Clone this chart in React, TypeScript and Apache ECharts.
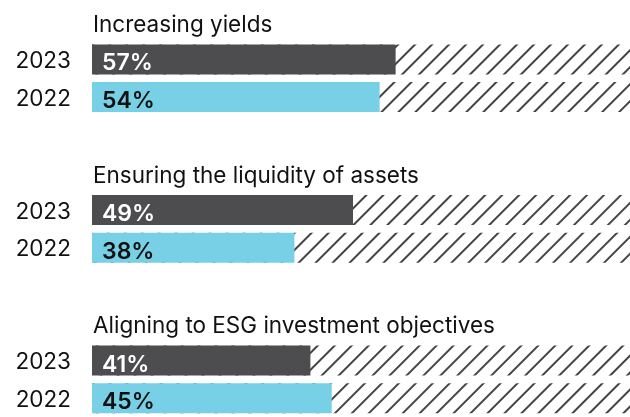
import React, { useEffect, useRef } from "react";
import * as echarts from "echarts";

const groups = [
  "Increasing yields",
  "Ensuring the liquidity of assets",
  "Aligning to ESG investment objectives",
];
const years = ["2023", "2022"];
const values2023 = [57, 49, 41];
const values2022 = [54, 38, 45];
const AXIS_MAX = 101;

const FONT = "Inter";

export default function App() {
  const ref = useRef<HTMLDivElement>(null);

  useEffect(() => {
    if (!ref.current) return;
    const chart = echarts.init(ref.current, null, { renderer: "svg" });

    // rows: title, 2023, 2022, spacer, ...
    const rowKeys: string[] = [];
    const rowLabels: string[] = [];
    const d2023: (number | string)[] = [];
    const d2022: (number | string)[] = [];
    const dHatch: (number | string)[] = [];
    const dTitle: (number | string)[] = [];
    const titleNames: string[] = [];
    groups.forEach((g, gi) => {
      if (gi > 0) {
        rowKeys.push("sp" + gi);
        rowLabels.push("");
        d2023.push("-");
        d2022.push("-");
        dHatch.push("-");
        dTitle.push("-");
        titleNames.push("");
      }
      rowKeys.push("t" + gi);
      rowLabels.push("");
      d2023.push("-");
      d2022.push("-");
      dHatch.push("-");
      dTitle.push(0);
      titleNames.push(g);
      years.forEach((y, yi) => {
        rowKeys.push("r" + gi + "-" + y);
        rowLabels.push(y);
        d2023.push(yi === 0 ? values2023[gi] : "-");
        d2022.push(yi === 1 ? values2022[gi] : "-");
        dHatch.push(AXIS_MAX);
        dTitle.push("-");
        titleNames.push("");
      });
    });

    const valueLabel = (color: string) => ({
      show: true,
      position: "insideLeft" as const,
      distance: 10,
      formatter: "{c}%",
      color,
      fontFamily: FONT,
      fontSize: 23,
      fontWeight: 600,
      offset: [0, 3],
    });

    chart.setOption({
      animation: false,
      grid: { left: 92, top: 3, width: 538, height: 418, containLabel: false },
      xAxis: {
        type: "value",
        min: 0,
        max: AXIS_MAX,
        show: false,
      },
      yAxis: {
        type: "category",
        inverse: true,
        data: rowKeys,
        axisLine: { show: false },
        axisTick: { show: false },
        splitLine: { show: false },
        axisLabel: {
          formatter: (_v: string, i: number) => rowLabels[i],
          margin: 21,
          color: "#111",
          fontFamily: FONT,
          fontSize: 22.5,
          padding: [8, 0, 0, 0],
        },
      },
      series: [
        {
          name: "hatch",
          type: "bar",
          stack: "bg",
          barWidth: 30,
          barGap: "-100%",
          data: dHatch,
          itemStyle: {
            color: "#ffffff",
            decal: {
              symbol: "rect",
              symbolSize: 1,
              dashArrayX: [1, 0],
              dashArrayY: [1.1, 9.7],
              rotation: -Math.PI / 4,
              color: "#444444",
            },
          },
          silent: true,
        },
        {
          name: "2023",
          type: "bar",
          stack: "v",
          barWidth: 30,
          barGap: "-100%",
          data: d2023,
          itemStyle: { color: "#4d4d4f" },
          label: valueLabel("#ffffff"),
        },
        {
          name: "2022",
          type: "bar",
          stack: "v",
          barWidth: 30,
          barGap: "-100%",
          data: d2022,
          itemStyle: { color: "#78d0e6" },
          label: valueLabel("#111111"),
        },
        {
          name: "titles",
          type: "bar",
          stack: "v",
          barWidth: 30,
          barGap: "-100%",
          data: dTitle,
          itemStyle: { color: "transparent" },
          label: {
            show: true,
            position: "right",
            distance: 1,
            offset: [0, 2],
            formatter: (p: any) => titleNames[p.dataIndex],
            color: "#111",
            fontFamily: FONT,
            fontSize: 22.5,
          },
        },
      ],
    });

    return () => chart.dispose();
  }, []);

  return (
    <div
      ref={ref}
      style={{ position: "fixed", left: 0, top: 0, width: 630, height: 417 }}
    />
  );
}
